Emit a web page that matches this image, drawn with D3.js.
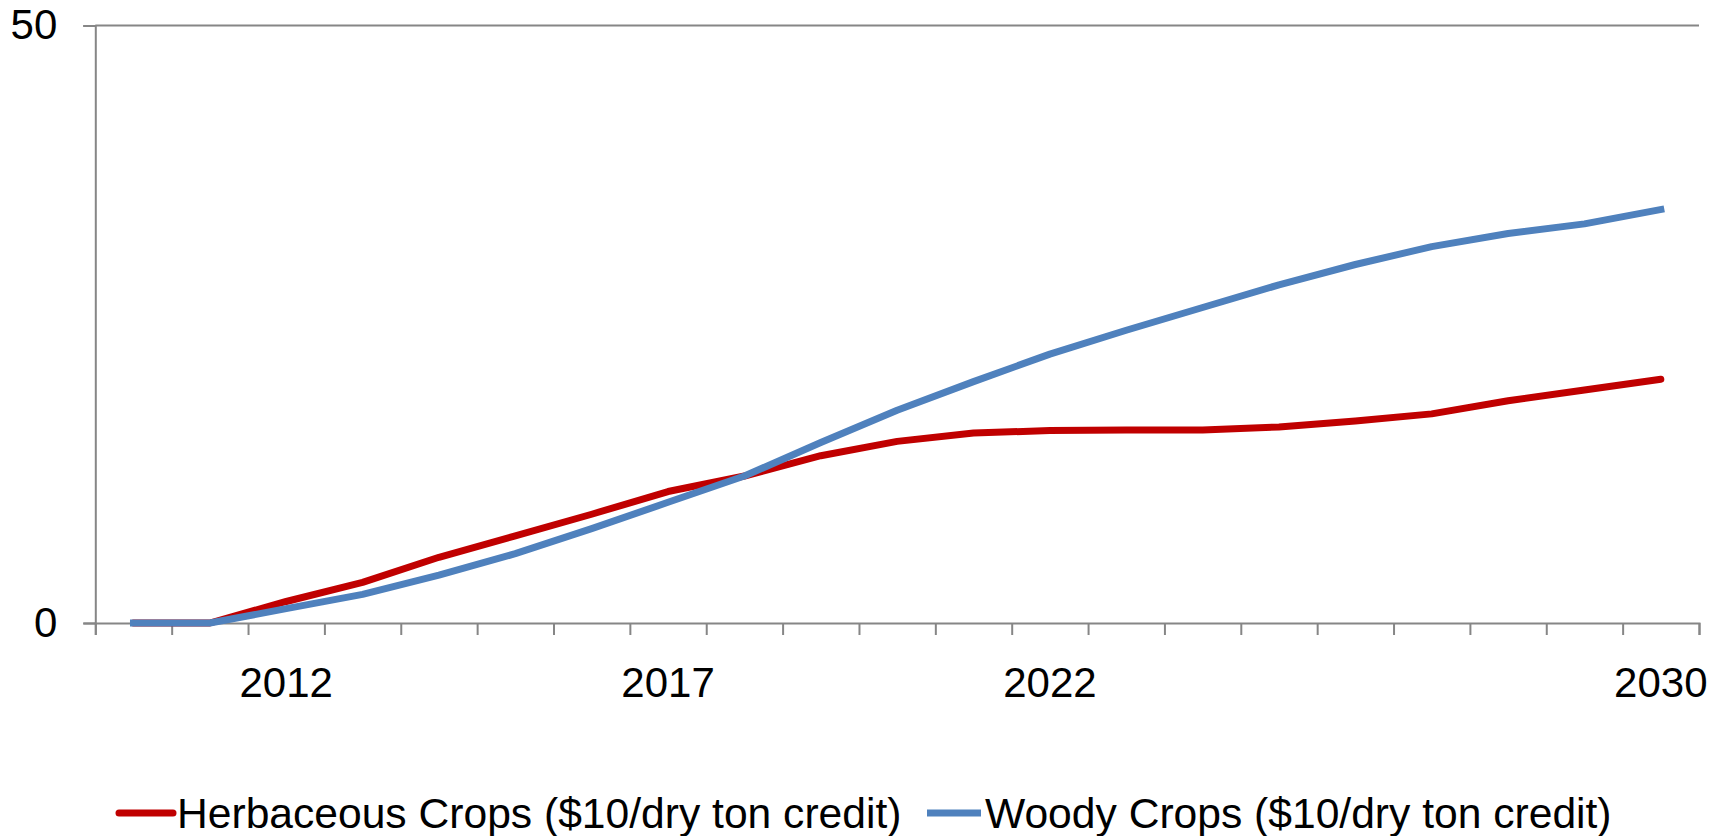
<!DOCTYPE html>
<html>
<head>
<meta charset="utf-8">
<script src="https://cdn.jsdelivr.net/npm/d3@7"></script>
<style>
  html, body { margin: 0; padding: 0; background: #fff; }
  svg { display: block; font-family: Arial, "Liberation Sans", sans-serif; }
</style>
</head>
<body>
<div id="chart"></div>
<script>
// categories (one per year)
const years = [2010, 2011, 2012, 2013, 2014, 2015, 2016, 2017, 2018, 2019, 2020,
               2021, 2022, 2023, 2024, 2025, 2026, 2027, 2028, 2029, 2030];
const tickLabels = [2012, 2017, 2022, 2030];
const yTicks = [0, 50];

const herbaceous = [0, 0, 1.8, 3.4, 5.5, 7.3, 9.1, 11.0, 12.3, 14.0, 15.2,
                    15.9, 16.1, 16.15, 16.15, 16.4, 16.9, 17.5, 18.6, 19.5, 20.4];
const woody = [0, 0, 1.2, 2.4, 4.0, 5.8, 7.9, 10.1, 12.3, 15.1, 17.8,
               20.2, 22.5, 24.5, 26.4, 28.3, 30.0, 31.5, 32.6, 33.4, 34.6];

const seriesNames = ['Herbaceous Crops ($10/dry ton credit)', 'Woody Crops ($10/dry ton credit)'];
const seriesColors = ['#C00000', '#4F81BD'];

const width = 1722, height = 836;
const margin = { top: 25.5, right: 23, bottom: 213, left: 95.3 };
const axisColor = '#868686';
const fontSize = 42;

const svg = d3.select('#chart').append('svg')
    .attr('width', width)
    .attr('height', height);

const x = d3.scaleBand()
    .domain(years)
    .range([margin.left, width - margin.right])
    .padding(0);

const xEdge = d3.scaleLinear()
    .domain([0, years.length])
    .range([margin.left, width - margin.right]);

const y = d3.scaleLinear()
    .domain([0, 50])
    .range([height - margin.bottom, margin.top]);

// gridline at the top value
svg.append('g')
    .selectAll('line')
    .data(yTicks.filter(t => t > 0))
    .join('line')
    .attr('x1', margin.left)
    .attr('x2', width - margin.right)
    .attr('y1', d => y(d))
    .attr('y2', d => y(d))
    .attr('stroke', axisColor)
    .attr('stroke-width', 2);

// y axis
const yAxis = svg.append('g')
    .attr('transform', `translate(${margin.left},0)`)
    .call(d3.axisLeft(y).tickValues(yTicks).tickSize(12).tickPadding(26).tickFormat(d3.format('d')));
yAxis.select('.domain').attr('stroke', axisColor).attr('stroke-width', 2);
yAxis.selectAll('.tick line').attr('stroke', axisColor).attr('stroke-width', 2);
yAxis.selectAll('.tick text')
    .attr('fill', '#000')
    .style('font-size', fontSize + 'px')
    .attr('font-family', 'Arial, "Liberation Sans", sans-serif');

// x axis: tick marks between categories
const xTicks = svg.append('g')
    .attr('transform', `translate(0,${y(0)})`)
    .call(d3.axisBottom(xEdge).tickValues(d3.range(years.length + 1)).tickSize(12).tickFormat(''));
xTicks.select('.domain').attr('stroke', axisColor).attr('stroke-width', 2);
xTicks.selectAll('.tick line').attr('stroke', axisColor).attr('stroke-width', 2);

// x axis labels centred in the categories
const xLabels = svg.append('g')
    .attr('transform', `translate(0,${y(0)})`)
    .call(d3.axisBottom(x).tickValues(tickLabels).tickSize(0).tickPadding(44));
xLabels.select('.domain').remove();
xLabels.selectAll('.tick text')
    .attr('fill', '#000')
    .style('font-size', fontSize + 'px')
    .attr('font-family', 'Arial, "Liberation Sans", sans-serif');

// lines
const line = d3.line()
    .x((d, i) => x(years[i]) + x.bandwidth() / 2)
    .y(d => y(d));

const allSeries = [herbaceous, woody];
svg.append('g')
    .selectAll('path')
    .data(allSeries)
    .join('path')
    .attr('fill', 'none')
    .attr('stroke', (d, i) => seriesColors[i])
    .attr('stroke-width', 7)
    .attr('stroke-linejoin', 'round')
    .attr('stroke-linecap', (d, i) => i === 0 ? 'round' : 'square')
    .attr('d', line);

// legend
const legendX = [116, 924];
const legendY = 813;
const legend = svg.append('g')
    .selectAll('g')
    .data(seriesNames)
    .join('g')
    .attr('transform', (d, i) => `translate(${legendX[i]},${legendY})`);

legend.append('line')
    .attr('x1', 3).attr('x2', 57)
    .attr('stroke', (d, i) => seriesColors[i])
    .attr('stroke-width', 7)
    .attr('stroke-linecap', (d, i) => i === 0 ? 'round' : 'butt');

legend.append('text')
    .attr('x', 61)
    .attr('dy', '0.35em')
    .style('font-size', '42.6px')
    .attr('fill', '#000')
    .text(d => d);
</script>
</body>
</html>
